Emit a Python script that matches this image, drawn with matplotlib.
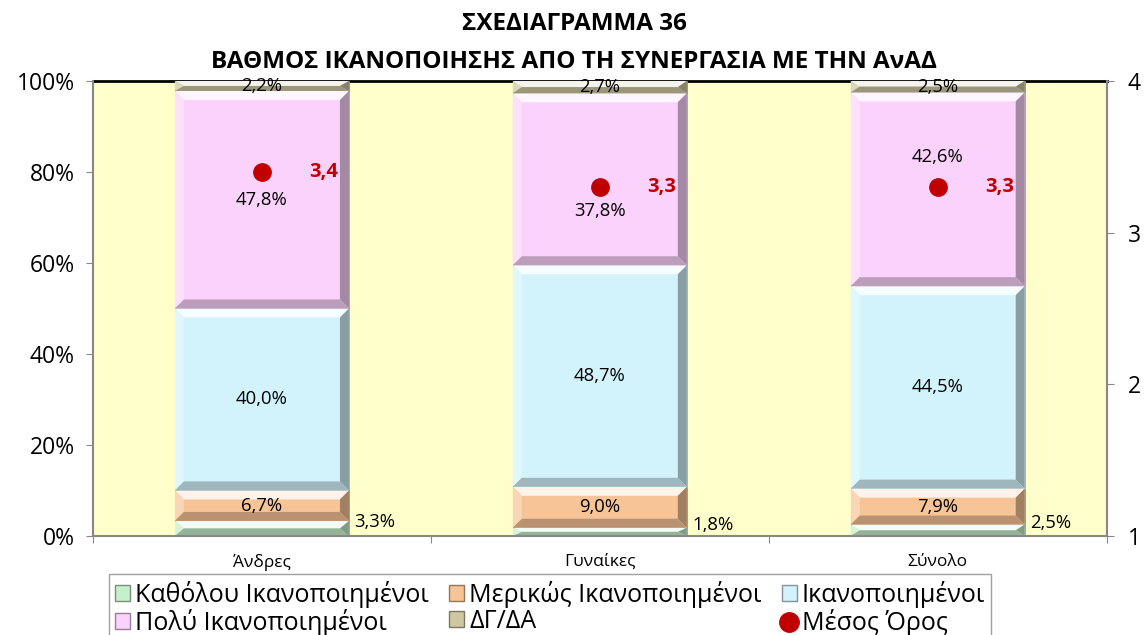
import matplotlib.pyplot as plt
from matplotlib.patches import Polygon
from matplotlib.lines import Line2D
import matplotlib.patches as mpatches
import numpy as np

plt.rcParams['font.family'] = ['Open Sans', 'DejaVu Sans']

categories = ['Άνδρες', 'Γυναίκες', 'Σύνολο']
series_names = ['Καθόλου Ικανοποιημένοι', 'Μερικώς Ικανοποιημένοι', 'Ικανοποιημένοι',
                'Πολύ Ικανοποιημένοι', 'ΔΓ/ΔΑ']
katholou = [3.3, 1.8, 2.5]
merikos = [6.7, 9.0, 7.9]
ikanopoiimenoi = [40.0, 48.7, 44.5]
poly = [47.8, 37.8, 42.6]
dg_da = [2.2, 2.7, 2.5]
mesos_oros = [3.4, 3.3, 3.3]

series = [katholou, merikos, ikanopoiimenoi, poly, dg_da]
colors = ['#c6efcc', '#f6c496', '#d2f3fb', '#fbd2fb', '#cfc6a2']

# label nudges for the pink segment so it doesn't sit on the mean dot
poly_label_shift = [0.0, -7.0, 7.1]


def shade(c, f):
    rgb = np.array(plt.matplotlib.colors.to_rgb(c))
    if f >= 0:
        return tuple(rgb + (1 - rgb) * f)
    return tuple(rgb * (1 + f))


def bevel_bar(ax, x, bottom, height, width, color, bx, by):
    left, right = x - width / 2, x + width / 2
    top = bottom + height
    by = min(by, height / 2)
    ax.add_patch(mpatches.Rectangle((left, bottom), width, height, facecolor=color,
                                    edgecolor=shade(color, -0.3), lw=0.6, zorder=2))
    il, ir, ib, it = left + bx, right - bx, bottom + by, top - by
    faces = [
        ([(left, top), (right, top), (ir, it), (il, it)], shade(color, 0.8)),
        ([(left, bottom), (left, top), (il, it), (il, ib)], shade(color, 0.3)),
        ([(right, bottom), (right, top), (ir, it), (ir, ib)], shade(color, -0.35)),
        ([(left, bottom), (right, bottom), (ir, ib), (il, ib)], shade(color, -0.25)),
    ]
    for pts, fc in faces:
        ax.add_patch(Polygon(pts, closed=True, facecolor=fc, edgecolor='none', zorder=2.1))


fig = plt.figure(figsize=(11.48, 6.35), dpi=100)
ax = fig.add_axes([0.081, 0.156, 0.883, 0.7165])
ax.set_facecolor('#ffffcc')
ax.set_xlim(-0.5, 2.5)
ax.set_ylim(0, 100)

x = np.arange(len(categories))
width = 0.515
ax_w = 0.883 * 1148
ax_h = 0.7165 * 635
bx = 9 * 3.0 / ax_w
by = 9 * 100.0 / ax_h

bottoms = np.zeros(len(categories))
for vals, col in zip(series, colors):
    for i in range(len(categories)):
        bevel_bar(ax, x[i], bottoms[i], vals[i], width, col, bx, by)
    bottoms += np.array(vals)


def fmt(v):
    return f'{v:.1f}%'.replace('.', ',')


lbl = 13.3
for i in range(len(categories)):
    # bottom segment labelled beside the bar
    ax.text(x[i] + width / 2 + 0.015, katholou[i] / 2 + 1.5, fmt(katholou[i]),
            ha='left', va='center', fontsize=lbl, zorder=5)
    b = katholou[i]
    ax.text(x[i], b + merikos[i] / 2, fmt(merikos[i]), ha='center', va='center',
            fontsize=lbl, zorder=5)
    b += merikos[i]
    ax.text(x[i], b + ikanopoiimenoi[i] / 2, fmt(ikanopoiimenoi[i]), ha='center',
            va='center', fontsize=lbl, zorder=5)
    b += ikanopoiimenoi[i]
    ax.text(x[i], b + poly[i] / 2 + poly_label_shift[i], fmt(poly[i]), ha='center',
            va='center', fontsize=lbl, zorder=5)
    b += poly[i]
    ax.text(x[i], b + dg_da[i] / 2, fmt(dg_da[i]), ha='center', va='center',
            fontsize=lbl, zorder=5)

ax.set_xticks([-0.5, 0.5, 1.5, 2.5])
ax.set_xticklabels([])
ax.set_xticks(x, minor=True)
ax.set_xticklabels(categories, minor=True, fontsize=12.5)
ax.tick_params(axis='x', which='minor', length=0, pad=13)
ax.tick_params(axis='x', which='major', length=5, color='#888888', direction='out')
ax.set_yticks(range(0, 101, 20))
ax.set_yticklabels([f'{v}%' for v in range(0, 101, 20)], fontsize=16.5)
ax.tick_params(axis='y', length=5, color='#888888', direction='out', pad=8)

for s in ['left', 'bottom', 'right']:
    ax.spines[s].set_color('#888888')
    ax.spines[s].set_linewidth(1.5)
ax.spines['top'].set_color('black')
ax.spines['top'].set_linewidth(2)
ax.spines['top'].set_zorder(1)

# mean score on the secondary axis
ax2 = ax.twinx()
ax2.set_ylim(1, 4)
ax2.set_yticks([1, 2, 3, 4])
ax2.set_yticklabels(['1', '2', '3', '4'], fontsize=16.5)
ax2.tick_params(axis='y', length=5, color='#888888', direction='out', pad=10)
for s in ax2.spines.values():
    s.set_visible(False)
ax2.plot(x, mesos_oros, 'o', color='#c00000', markersize=12.5, zorder=6)
for i in range(len(categories)):
    ax2.text(x[i] + 0.14, mesos_oros[i], f'{mesos_oros[i]:.1f}'.replace('.', ','),
             color='#c00000', fontweight='bold', fontsize=14.5, ha='left', va='center')

fig.text(0.5, 0.962, 'ΣΧΕΔΙΑΓΡΑΜΜΑ 36', ha='center', va='center',
         fontsize=17.5, fontweight='bold')
fig.text(0.5, 0.903, 'ΒΑΘΜΟΣ ΙΚΑΝΟΠΟΙΗΣΗΣ ΑΠΟ ΤΗ ΣΥΝΕΡΓΑΣΙΑ ΜΕ ΤΗΝ ΑνΑΔ', ha='center',
         va='center', fontsize=17.5, fontweight='bold')

handles = [mpatches.Patch(facecolor=c, edgecolor=shade(c, -0.4)) for c in colors]
handles.append(Line2D([], [], marker='o', color='#c00000', ls='none', markersize=14))
labels = series_names + ['Μέσος Όρος']
order = [0, 3, 1, 4, 2, 5]
leg = fig.legend([handles[k] for k in order], [labels[k] for k in order], ncol=3,
                 loc='upper left', bbox_to_anchor=(0.084, 0.115), fontsize=18,
                 frameon=True, fancybox=False, edgecolor='#888888',
                 handlelength=0.6, handleheight=0.6, handletextpad=0.2,
                 columnspacing=0.8, labelspacing=0.05, borderpad=0.25)

fig.savefig('out.png', dpi=100)
